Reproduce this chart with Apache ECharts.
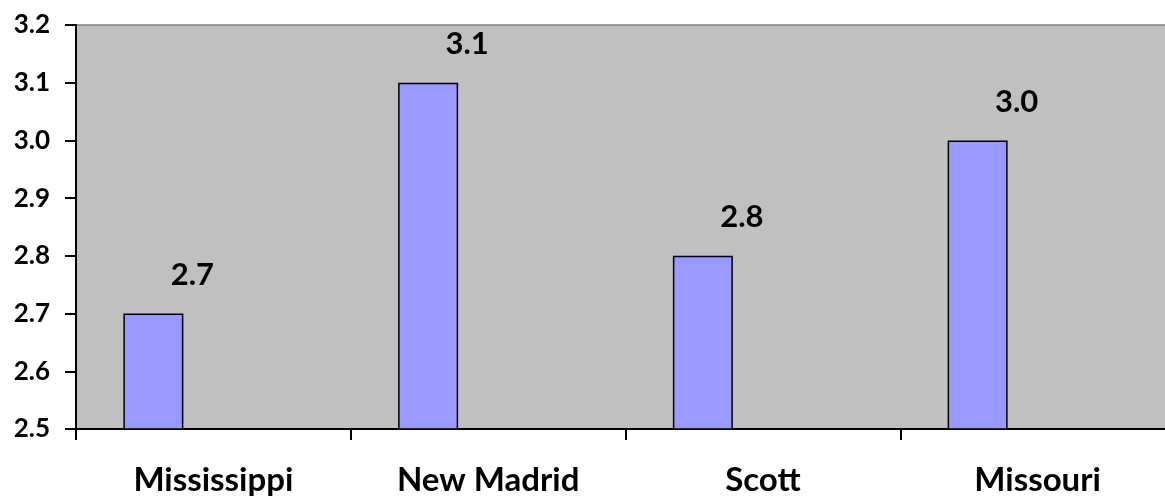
<!DOCTYPE html>
<html>
<head>
<meta charset="utf-8">
<script src="https://cdn.jsdelivr.net/npm/echarts@6/dist/echarts.min.js"></script>
<style>
  html, body { margin: 0; padding: 0; background: #fff; }
  #chart { width: 1165px; height: 497px; }
</style>
</head>
<body>
<div id="chart"></div>
<script>
// County values shown as bars, one per category
const categories = ['Mississippi', 'New Madrid', 'Scott', 'Missouri'];
const values = [2.7, 3.1, 2.8, 3.0];
const yMin = 2.5;
const yMax = 3.2;
const yStep = 0.1;

const FONT = 'Lato, "Open Sans", sans-serif';
const emptySlot = categories.map(() => '-');

const chart = echarts.init(document.getElementById('chart'), null, { renderer: 'canvas' });

const barBase = {
  type: 'bar',
  barWidth: 60,
  barGap: '0%',
  itemStyle: { color: '#9999FF', borderColor: '#000', borderWidth: 1.5 },
  silent: true
};

chart.setOption({
  animation: false,
  backgroundColor: '#fff',
  grid: {
    left: 76, width: 1099, top: 25, bottom: 68,
    outerBoundsMode: 'none', containLabel: false,
    show: true, backgroundColor: '#C0C0C0', borderColor: '#808080', borderWidth: 1.5
  },
  xAxis: {
    type: 'category',
    data: categories,
    boundaryGap: true,
    axisLine: { lineStyle: { color: '#000', width: 2 } },
    axisTick: { show: true, length: 11, lineStyle: { color: '#000', width: 2 } },
    axisLabel: {
      color: '#000', fontFamily: FONT, fontWeight: 'bold', fontSize: 33,
      lineHeight: 33, margin: 35, interval: 0
    },
    splitLine: { show: false }
  },
  yAxis: {
    type: 'value',
    min: yMin, max: yMax, interval: yStep,
    axisLine: { show: true, lineStyle: { color: '#000', width: 2 } },
    axisTick: { show: true, length: 11, lineStyle: { color: '#000', width: 2 } },
    axisLabel: {
      color: '#000', fontFamily: FONT, fontWeight: 'bold', fontSize: 26,
      margin: 26, formatter: v => v.toFixed(1)
    },
    splitLine: { show: false }
  },
  series: [
    Object.assign({}, barBase, {
      name: 'Value',
      data: values,
      label: {
        show: true, position: 'top', distance: 23, offset: [39, 0],
        color: '#000', fontFamily: FONT, fontWeight: 'bold', fontSize: 31, lineHeight: 31,
        formatter: p => p.value.toFixed(1)
      }
    }),
    Object.assign({}, barBase, { data: emptySlot }),
    Object.assign({}, barBase, { data: emptySlot })
  ]
});
</script>
</body>
</html>
